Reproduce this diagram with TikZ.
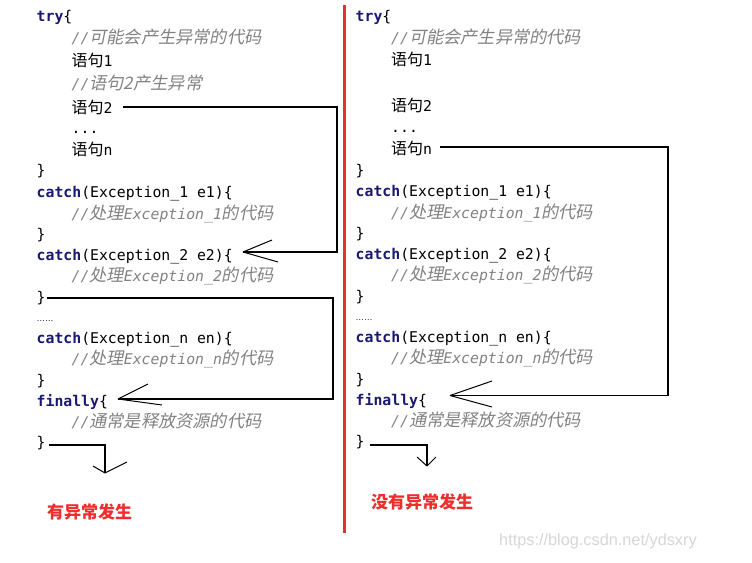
\documentclass[tikz,border=0pt]{standalone}
\usepackage{fontspec}
\newfontfamily\codefont{DejaVu Sans Mono}
\newfontfamily\cjk{Noto Sans CJK SC}
\newfontfamily\cjkit[FakeSlant=0.2]{Noto Sans CJK SC}
\newfontfamily\latsans{Liberation Sans}
\definecolor{kwblue}{RGB}{25,25,112}
\definecolor{cmtgray}{RGB}{130,130,130}
\definecolor{lblred}{RGB}{240,45,45}
\definecolor{barred}{RGB}{235,45,55}
\definecolor{wmgray}{RGB}{215,215,215}
\newcommand\kw[1]{\textcolor{kwblue}{\bfseries #1}}
\newcommand\zh[1]{{\cjk\fontsize{16}{17}\selectfont #1}}
\newcommand\zhc[1]{{\cjkit\fontsize{17.2}{18}\selectfont #1}}
\tikzset{
  code/.style={anchor=base west, inner sep=0pt, text=black, font=\codefont\fontsize{14.8}{16}\selectfont},
  cmt/.style={anchor=base west, inner sep=0pt, text=cmtgray, font=\codefont\itshape\fontsize{14.8}{16}\selectfont},
  ell/.style={anchor=base west, inner sep=0pt, text=black, font=\latsans\fontsize{8.5}{9}\selectfont},
  lbl/.style={anchor=base west, inner sep=0pt, text=lblred, font=\cjk\bfseries\fontsize{17}{18}\selectfont},
  wm/.style={anchor=base west, inner sep=0pt, text=wmgray, font=\latsans\fontsize{16.3}{17}\selectfont},
  conn/.style={line width=1.1pt, black},
  head/.style={line width=1pt, black}
}
\begin{document}
\begin{tikzpicture}[x=1pt,y=-1pt]
\useasboundingbox (0,0) rectangle (752,562);
\fill[white] (0,0) rectangle (752,562);
% left column
\node[code] (Ltry) at (36.5,21.5) {\kw{try}\{};
\node[cmt] (Lc1) at (71.5,43.5) {//\zhc{可能会产生异常的代码}};
\node[code] (Ls1) at (71.5,66) {\zh{语句}1};
\node[cmt] (Lc2) at (71.5,89.5) {//\zhc{语句2产生异常}};
\node[code] (Ls2) at (71.5,113) {\zh{语句}2};
\node[code] (Ldots) at (71.5,133) {...};
\node[code] (Lsn) at (71.5,155) {\zh{语句}n};
\node[code] (Lb1) at (36.5,175) {\}};
\node[code] (Lcatch1) at (36.5,197) {\kw{catch}(Exception\_1 e1)\{};
\node[cmt] (Lc3) at (71.5,219) {//\zhc{处理}Exception\_1\zhc{的代码}};
\node[code] (Lb2) at (36.5,239) {\}};
\node[code] (Lcatch2) at (36.5,260) {\kw{catch}(Exception\_2 e2)\{};
\node[cmt] (Lc4) at (71.5,281) {//\zhc{处理}Exception\_2\zhc{的代码}};
\node[code] (Lb3) at (36.5,302) {\}};
\node[ell] (Lell) at (36.5,321) {……};
\node[code] (Lcatchn) at (36.5,343) {\kw{catch}(Exception\_n en)\{};
\node[cmt] (Lc5) at (71.5,364) {//\zhc{处理}Exception\_n\zhc{的代码}};
\node[code] (Lb4) at (36.5,385) {\}};
\node[code] (Lfin) at (36.5,406) {\kw{finally}\{};
\node[cmt] (Lc6) at (71.5,427) {//\zhc{通常是释放资源的代码}};
\node[code] (Lb5) at (36.5,447) {\}};
\node[lbl] (Llbl) at (47,518.5) {有异常发生};
% right column
\node[code] (Rtry) at (355.5,21) {\kw{try}\{};
\node[cmt] (Rc1) at (391,43) {//\zhc{可能会产生异常的代码}};
\node[code] (Rs1) at (391,65) {\zh{语句}1};
\node[code] (Rs2) at (391,111.5) {\zh{语句}2};
\node[code] (Rdots) at (391,132) {...};
\node[code] (Rsn) at (391,154) {\zh{语句}n};
\node[code] (Rb1) at (355.5,175) {\}};
\node[code] (Rcatch1) at (355.5,196) {\kw{catch}(Exception\_1 e1)\{};
\node[cmt] (Rc3) at (391,218) {//\zhc{处理}Exception\_1\zhc{的代码}};
\node[code] (Rb2) at (355.5,238.5) {\}};
\node[code] (Rcatch2) at (355.5,259) {\kw{catch}(Exception\_2 e2)\{};
\node[cmt] (Rc4) at (391,280.5) {//\zhc{处理}Exception\_2\zhc{的代码}};
\node[code] (Rb3) at (355.5,301.5) {\}};
\node[ell] (Rell) at (355.5,320) {……};
\node[code] (Rcatchn) at (355.5,342) {\kw{catch}(Exception\_n en)\{};
\node[cmt] (Rc5) at (391,363) {//\zhc{处理}Exception\_n\zhc{的代码}};
\node[code] (Rb4) at (355.5,384) {\}};
\node[code] (Rfin) at (355.5,405) {\kw{finally}\{};
\node[cmt] (Rc6) at (391,426) {//\zhc{通常是释放资源的代码}};
\node[code] (Rb5) at (355.5,446) {\}};
\node[lbl] (Rlbl) at (371,508.5) {没有异常发生};
\node[wm] (wmark) at (499,545) {https://blog.csdn.net/ydsxry};
% red divider
\coordinate (barT) at (344.5,5);
\coordinate (barB) at (344.5,533);
\draw[barred, line width=3pt] (barT) -- (barB);
% left connectors
\coordinate (a1s) at (123,107);
\coordinate (a1c1) at (337,107);
\coordinate (a1c2) at (337,252);
\coordinate (a1t) at (243,252);
\draw[conn] (a1s) -- (a1c1) -- (a1c2) -- (a1t);
\draw[head] (a1t) -- (272,240) (a1t) -- (278,262);
\coordinate (a2s) at (47,298);
\coordinate (a2c1) at (333,298);
\coordinate (a2c2) at (333,399);
\coordinate (a2t) at (118,399);
\draw[conn] (a2s) -- (a2c1) -- (a2c2) -- (a2t);
\draw[head] (a2t) -- (148,384) (a2t) -- (162,405);
\coordinate (a3s) at (49,445);
\coordinate (a3c) at (105,445);
\coordinate (a3t) at (105,473);
\draw[conn] (a3s) -- (a3c) -- (a3t);
\draw[head] (a3t) -- (93,466) (a3t) -- (127,462);
% right connectors
\coordinate (b1s) at (440,147);
\coordinate (b1c1) at (668,147);
\coordinate (b1c2) at (668,395.5);
\coordinate (b1t) at (450,395.5);
\draw[conn] (b1s) -- (b1c1) -- (b1c2) -- (b1t);
\draw[head] (b1t) -- (492,381) (b1t) -- (492,407);
\coordinate (b3s) at (370,445);
\coordinate (b3c) at (427,445);
\coordinate (b3t) at (427,466);
\draw[conn] (b3s) -- (b3c) -- (b3t);
\draw[head] (b3t) -- (417,457) (b3t) -- (436,457);
\end{tikzpicture}
\end{document}
